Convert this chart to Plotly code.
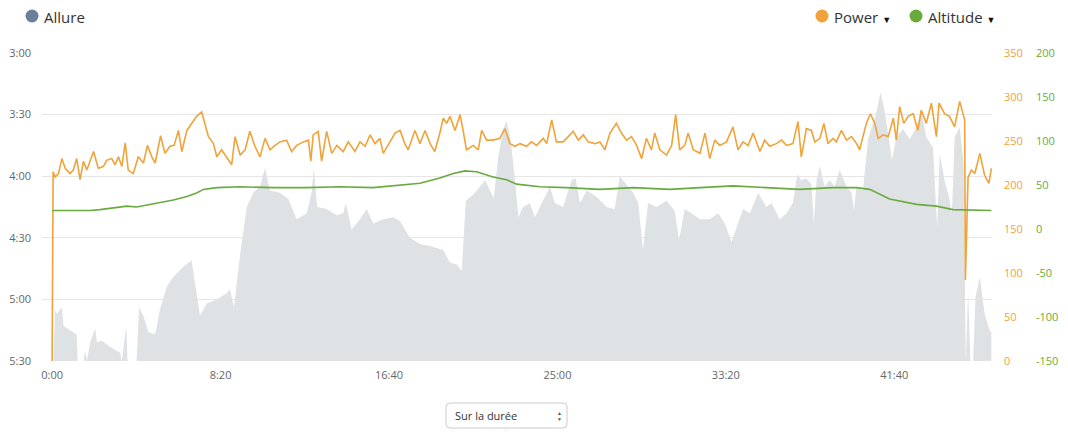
import plotly.graph_objects as go

# ---------------- data ----------------
# Pace (Allure) in seconds per km, time in seconds
pace_t = [0, 4, 9, 14, 29, 34, 53, 73, 76, 93, 98, 103, 113, 128, 133, 147, 172, 202, 207, 220,
          224, 251, 258, 271, 286, 306, 320, 340, 360, 390, 414, 424, 439, 459, 489, 518, 528, 540, 558, 578,
          597, 617, 632, 647, 676, 701, 726, 756, 770, 777, 787, 815, 845, 864, 872, 889, 914, 934, 953, 983,
          1013, 1033, 1062, 1092, 1122, 1161, 1181, 1201, 1216, 1228, 1250, 1270, 1285, 1300, 1311, 1324, 1339, 1349, 1361, 1374,
          1384, 1398, 1418, 1433, 1448, 1478, 1492, 1517, 1542, 1554, 1567, 1587, 1616, 1646, 1670, 1685, 1705, 1725, 1740, 1754,
          1769, 1794, 1824, 1848, 1861, 1878, 1898, 1923, 1952, 1977, 1997, 2017, 2036, 2051, 2071, 2096, 2120, 2135, 2160, 2180,
          2199, 2212, 2224, 2239, 2254, 2261, 2269, 2279, 2293, 2308, 2323, 2338, 2358, 2373, 2380, 2388, 2407, 2422, 2447, 2459,
          2472, 2486, 2493, 2506, 2526, 2546, 2566, 2580, 2595, 2615, 2627, 2635, 2649, 2662, 2671, 2679, 2694, 2706, 2712, 2719,
          2726, 2734, 2741, 2754, 2768, 2783, 2788]
pace_s = [330, 330, 305, 307, 304, 313, 315, 317, 330, 330, 325, 330, 321, 314, 321, 320, 323, 326, 330, 313,
          330, 330, 304, 308, 316, 317, 305, 294, 289, 284, 281, 291, 308, 302, 300, 297, 295, 304, 278, 255,
          248, 245, 236, 247, 248, 251, 261, 258, 248, 236, 255, 256, 259, 258, 253, 266, 261, 256, 263, 261,
          260, 262, 270, 273, 274, 276, 282, 283, 286, 252, 249, 245, 242, 247, 251, 231, 217, 213, 222, 242,
          260, 255, 253, 260, 255, 245, 253, 255, 242, 241, 253, 247, 250, 255, 256, 240, 244, 248, 253, 276,
          253, 255, 252, 257, 271, 256, 258, 261, 261, 258, 263, 272, 263, 256, 258, 248, 255, 253, 261, 258,
          253, 239, 242, 241, 244, 263, 242, 235, 245, 242, 245, 237, 245, 248, 257, 245, 247, 222, 209, 199,
          209, 226, 232, 221, 217, 222, 216, 208, 221, 226, 265, 229, 242, 250, 258, 221, 216, 234, 330, 296,
          330, 330, 299, 289, 307, 315, 316]

# Power in watts
power_t = [0, 3, 9, 19, 29, 39, 53, 63, 73, 83, 93, 103, 123, 137, 152, 162, 177, 187, 197, 207,
           217, 226, 241, 256, 271, 283, 296, 306, 322, 335, 350, 362, 375, 385, 400, 414, 429, 444, 454, 464,
           479, 489, 503, 518, 533, 543, 558, 573, 587, 602, 617, 632, 647, 662, 676, 696, 711, 726, 746, 761,
           768, 775, 790, 800, 815, 830, 845, 864, 879, 899, 914, 929, 944, 958, 973, 983, 1003, 1018, 1033, 1047,
           1057, 1077, 1092, 1107, 1122, 1136, 1151, 1161, 1171, 1181, 1196, 1211, 1220, 1230, 1250, 1265, 1275, 1290, 1309, 1329,
           1344, 1359, 1374, 1389, 1408, 1423, 1438, 1458, 1468, 1483, 1497, 1517, 1532, 1547, 1562, 1577, 1591, 1611, 1626, 1641,
           1656, 1675, 1690, 1705, 1720, 1735, 1750, 1764, 1779, 1789, 1804, 1824, 1839, 1851, 1863, 1878, 1888, 1903, 1923, 1938,
           1952, 1967, 1982, 2002, 2021, 2036, 2051, 2066, 2081, 2101, 2115, 2130, 2150, 2165, 2180, 2199, 2214, 2224, 2239, 2254,
           2264, 2279, 2291, 2303, 2318, 2328, 2343, 2358, 2373, 2388, 2397, 2407, 2417, 2429, 2442, 2452, 2467, 2482, 2497, 2506,
           2516, 2528, 2541, 2556, 2570, 2580, 2595, 2610, 2625, 2633, 2649, 2664, 2679, 2694, 2709, 2711, 2719, 2729, 2739, 2754,
           2768, 2781, 2788]
power_w = [0, 215, 209, 213, 230, 219, 213, 217, 230, 206, 227, 217, 238, 219, 221, 228, 230, 223, 232, 221,
           248, 217, 213, 232, 225, 245, 232, 225, 256, 236, 244, 245, 262, 238, 262, 270, 278, 283, 268, 255,
           247, 232, 240, 232, 223, 255, 234, 240, 261, 244, 232, 253, 240, 245, 249, 251, 238, 245, 249, 251,
           227, 257, 261, 227, 261, 236, 245, 238, 249, 238, 249, 244, 257, 247, 253, 236, 249, 259, 262, 247,
           240, 262, 247, 262, 247, 238, 259, 276, 270, 278, 262, 280, 262, 240, 245, 240, 262, 251, 251, 253,
           264, 247, 244, 247, 244, 249, 245, 253, 247, 274, 249, 249, 255, 261, 251, 257, 249, 247, 249, 240,
           259, 270, 259, 251, 255, 245, 230, 253, 240, 259, 240, 234, 245, 280, 240, 245, 259, 240, 236, 259,
           230, 251, 245, 249, 266, 240, 249, 245, 259, 238, 251, 244, 247, 251, 245, 247, 272, 232, 264, 262,
           249, 253, 270, 247, 253, 249, 262, 251, 255, 247, 240, 255, 270, 281, 270, 253, 257, 255, 276, 251,
           289, 270, 278, 281, 262, 285, 270, 293, 255, 293, 281, 278, 266, 295, 274, 92, 209, 217, 213, 236,
           211, 202, 219]

# Altitude in metres
alt_t = [0, 113, 142, 222, 251, 311, 360, 400, 429, 449, 489, 558, 657, 756, 855, 953, 1033, 1092, 1151, 1191,
         1225, 1260, 1309, 1349, 1379, 1448, 1527, 1626, 1725, 1834, 1923, 2021, 2120, 2219, 2318, 2388, 2427, 2457, 2486, 2566,
         2625, 2674, 2788]
alt_m = [21, 21, 22, 26, 25, 29, 33, 37, 41, 45, 47, 48, 47, 47, 48, 47, 50, 52, 58, 63,
         66, 65, 59, 56, 51, 48, 47, 45, 47, 45, 47, 49, 47, 45, 47, 47, 45, 39, 34, 28,
         26, 22, 21]

x_tickvals = [0, 500, 1000, 1500, 2000, 2500]
x_ticktext = ["0:00", "8:20", "16:40", "25:00", "33:20", "41:40"]
pace_tickvals = [180, 210, 240, 270, 300, 330]
pace_ticktext = ["3:00", "3:30", "4:00", "4:30", "5:00", "5:30"]
power_tickvals = [0, 50, 100, 150, 200, 250, 300, 350]
power_ticktext = ["0", "50", "100", "150", "200", "250", "300", "350"]
alt_tickvals = [-150, -100, -50, 0, 50, 100, 150, 200]
alt_ticktext = ["-150", "-100", "-50", "0", "50", "100", "150", "200"]
PACE_FLOOR = 330

assert len(pace_t) == len(pace_s), (len(pace_t), len(pace_s))
assert len(power_t) == len(power_w), (len(power_t), len(power_w))
assert len(alt_t) == len(alt_m), (len(alt_t), len(alt_m))

# ---------------- style ----------------
ORANGE = "#f0a33a"
GREEN = "#68ab3c"
AREA = "#dee2e5"
GRID = "#e6e6e6"
FONT = "Open Sans"

W, H = 1068, 436
ML, MT = 42, 53
PLOT_BOTTOM = 361
PLOT_RIGHT = 992
MB = H - PLOT_BOTTOM
PAPER_RIGHT = 1033
MR = W - PAPER_RIGHT
PW = PAPER_RIGHT - ML
PH = PLOT_BOTTOM - MT


def px(x_page):
    return (x_page - ML) / PW


def py(y_page):
    return (PLOT_BOTTOM - y_page) / PH


fig = go.Figure()

fig.add_trace(go.Scatter(x=pace_t, y=[PACE_FLOOR] * len(pace_t), mode="lines",
                         line=dict(width=0, color=AREA), yaxis="y", hoverinfo="skip", showlegend=False))
fig.add_trace(go.Scatter(x=pace_t, y=pace_s, mode="lines", line=dict(width=0, color=AREA),
                         fill="tonexty", fillcolor=AREA, yaxis="y", hoverinfo="skip", name="Allure"))
fig.add_trace(go.Scatter(x=alt_t, y=alt_m, mode="lines", line=dict(width=1.6, color=GREEN),
                         yaxis="y3", name="Altitude"))
fig.add_trace(go.Scatter(x=power_t, y=power_w, mode="lines", line=dict(width=1.6, color=ORANGE),
                         yaxis="y2", name="Power"))

tickfont_gray = dict(family=FONT, size=11, color="#666666")

fig.update_layout(
    width=W, height=H,
    margin=dict(l=ML, r=MR, t=MT, b=MB, autoexpand=False),
    paper_bgcolor="white", plot_bgcolor="white",
    showlegend=False,
    font=dict(family=FONT),
    xaxis=dict(domain=[0, (PLOT_RIGHT - ML) / PW], range=[-30, 2790],
               tickvals=x_tickvals, ticktext=x_ticktext, tickfont=tickfont_gray,
               showgrid=False, zeroline=False, showline=False, ticks="",
               ticklabelstandoff=6),
    yaxis=dict(range=[330, 180], tickvals=pace_tickvals, ticktext=pace_ticktext,
               tickfont=tickfont_gray, showgrid=True, gridcolor=GRID, gridwidth=1,
               zeroline=False, showline=False, ticks="", ticklabelstandoff=10),
    yaxis2=dict(range=[0, 350], tickvals=power_tickvals, ticktext=power_ticktext,
                overlaying="y", side="right", anchor="x",
                tickfont=dict(family=FONT, size=11, color=ORANGE), showgrid=False,
                zeroline=False, showline=False, ticks="", ticklabelstandoff=11),
    yaxis3=dict(range=[-150, 200], tickvals=alt_tickvals, ticktext=alt_ticktext,
                overlaying="y", side="right", anchor="free",
                position=1.0, tickfont=dict(family=FONT, size=11, color=GREEN), showgrid=False,
                zeroline=False, showline=False, ticks="", ticklabelstandoff=2),
)

# legend-like header
shapes = []
annotations = []
for cx, col in [(32, "#6b7f9c"), (822, ORANGE), (916, GREEN)]:
    shapes.append(dict(type="circle", xref="paper", yref="paper",
                       x0=px(cx - 6.5), x1=px(cx + 6.5), y0=py(16 + 6.5), y1=py(16 - 6.5),
                       fillcolor=col, line=dict(width=0)))
for tx, label in [(42, "Allure"), (832, "Power <span style='font-size:9px;color:#111'>▼</span>"),
                  (926, "Altitude <span style='font-size:9px;color:#111'>▼</span>")]:
    annotations.append(dict(x=px(tx), y=py(16.5), xref="paper", yref="paper", text=label,
                            showarrow=False, xanchor="left", yanchor="middle",
                            font=dict(family=FONT, size=15, color="#333333")))

# dropdown "Sur la durée"
x0, x1, y0, y1, r = 446, 567, 403, 428, 4
path = (f"M {px(x0 + r)} {py(y0)} L {px(x1 - r)} {py(y0)} Q {px(x1)} {py(y0)} {px(x1)} {py(y0 + r)} "
        f"L {px(x1)} {py(y1 - r)} Q {px(x1)} {py(y1)} {px(x1 - r)} {py(y1)} "
        f"L {px(x0 + r)} {py(y1)} Q {px(x0)} {py(y1)} {px(x0)} {py(y1 - r)} "
        f"L {px(x0)} {py(y0 + r)} Q {px(x0)} {py(y0)} {px(x0 + r)} {py(y0)} Z")
shapes.append(dict(type="path", xref="paper", yref="paper", path=path,
                   line=dict(color="#cccccc", width=1), fillcolor="white"))
annotations.append(dict(x=px(453), y=py(415.5), xref="paper", yref="paper", text="Sur la durée",
                        showarrow=False, xanchor="left", yanchor="middle",
                        font=dict(family=FONT, size=11, color="#333333")))
annotations.append(dict(x=px(559), y=py(412.5), xref="paper", yref="paper", text="▲",
                        showarrow=False, xanchor="center", yanchor="middle",
                        font=dict(family=FONT, size=5, color="#555555")))
annotations.append(dict(x=px(559), y=py(418.5), xref="paper", yref="paper", text="▼",
                        showarrow=False, xanchor="center", yanchor="middle",
                        font=dict(family=FONT, size=5, color="#555555")))

fig.update_layout(shapes=shapes, annotations=annotations)

fig.write_html("out.html",
               config={"displayModeBar": False},
               post_script="document.body.style.margin='0';document.body.style.overflow='hidden';")
